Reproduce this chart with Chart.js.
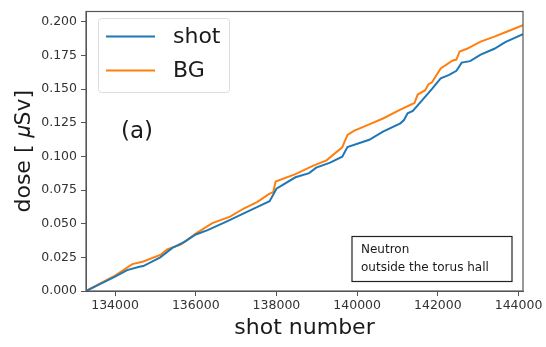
<!DOCTYPE html>
<html>
<head>
<meta charset="utf-8">
<script src="https://cdn.jsdelivr.net/npm/chart.js@4/dist/chart.umd.min.js"></script>
<style>
  html, body { margin: 0; padding: 0; background: #fff; }
  #wrap { width: 546px; height: 347px; }
</style>
</head>
<body>
<div id="wrap"><canvas id="doseChart" width="546" height="347"></canvas></div>
<script>
const shotX = [133280, 134000, 134300, 134600, 134700, 135120, 135420, 135720, 136000, 136280, 136760, 137190, 137530, 137830, 138000, 138470, 138810, 138985, 139330, 139630, 139760, 140300, 140640, 141070, 141160, 141250, 141380, 141640, 141850, 142070, 142280, 142460, 142590, 142800, 143060, 143400, 143670, 144110];
const shotDose = [0, 0.0107, 0.0155, 0.018, 0.0185, 0.025, 0.032, 0.0365, 0.042, 0.045, 0.0516, 0.0577, 0.0625, 0.0667, 0.076, 0.0845, 0.0876, 0.0917, 0.0954, 0.0998, 0.107, 0.1124, 0.1185, 0.1246, 0.127, 0.132, 0.1338, 0.1428, 0.150, 0.158, 0.1606, 0.1636, 0.1697, 0.1708, 0.1757, 0.180, 0.1849, 0.1908];

const bgX = [133280, 134000, 134430, 134700, 135120, 135290, 135630, 136000, 136410, 136850, 137190, 137530, 137830, 137920, 137980, 138470, 138900, 139240, 139630, 139760, 139930, 140300, 140640, 141070, 141420, 141500, 141680, 141770, 141850, 142070, 142370, 142460, 142540, 142720, 143060, 143400, 143750, 144110];
const bgDose = [0, 0.0114, 0.020, 0.0219, 0.0268, 0.0309, 0.0345, 0.0426, 0.0504, 0.0552, 0.0613, 0.0662, 0.0723, 0.0735, 0.0813, 0.0869, 0.093, 0.0971, 0.1068, 0.116, 0.1192, 0.1238, 0.1282, 0.1348, 0.1397, 0.146, 0.149, 0.1537, 0.155, 0.1654, 0.1713, 0.172, 0.178, 0.180, 0.1853, 0.189, 0.1932, 0.1976];

const seriesNames = ['shot', 'BG'];
const seriesColors = ['#1f77b4', '#ff7f0e'];
const xTicks = [134000, 136000, 138000, 140000, 142000, 144000];
const yTicks = [0, 0.025, 0.05, 0.075, 0.1, 0.125, 0.15, 0.175, 0.2];

const fontFamily = '"DejaVu Sans", sans-serif';

const toPoints = (xs, ys) => xs.map((x, i) => ({ x, y: ys[i] }));

// frame, in-plot legend, panel label and note box
const overlay = {
  id: 'overlay',
  afterDraw(chart) {
    const ctx = chart.ctx;
    const a = chart.chartArea;
    ctx.save();
    ctx.strokeStyle = '#555';
    ctx.lineWidth = 1.2;
    ctx.strokeRect(a.left, a.top, a.right - a.left, a.bottom - a.top);

    // legend
    ctx.fillStyle = 'rgba(255,255,255,0.8)';
    ctx.strokeStyle = '#ddd';
    ctx.lineWidth = 1;
    ctx.beginPath();
    ctx.roundRect(98.5, 18.5, 131, 74, 3);
    ctx.fill();
    ctx.stroke();
    ctx.font = '22px ' + fontFamily;
    ctx.textBaseline = 'middle';
    seriesNames.forEach((name, i) => {
      const y = 36.5 + i * 34;
      ctx.strokeStyle = seriesColors[i];
      ctx.lineWidth = 2;
      ctx.beginPath();
      ctx.moveTo(106, y);
      ctx.lineTo(155, y);
      ctx.stroke();
      ctx.fillStyle = '#1a1a1a';
      ctx.fillText(name, 173, y + 1);
    });

    // panel label
    ctx.font = '23px ' + fontFamily;
    ctx.fillStyle = '#1a1a1a';
    ctx.fillText('(a)', 121, 132);

    // note box
    ctx.strokeStyle = '#222';
    ctx.lineWidth = 1.2;
    ctx.strokeRect(352, 236.5, 160, 45);
    ctx.font = '12px ' + fontFamily;
    ctx.fillStyle = '#1a1a1a';
    ctx.fillText('Neutron', 361, 250);
    ctx.fillText('outside the torus hall', 361, 268);
    ctx.restore();
  }
};

new Chart(document.getElementById('doseChart'), {
  type: 'scatter',
  data: {
    datasets: [
      { label: seriesNames[0], data: toPoints(shotX, shotDose), borderColor: seriesColors[0], backgroundColor: seriesColors[0], showLine: true, pointRadius: 0, borderWidth: 2, tension: 0 },
      { label: seriesNames[1], data: toPoints(bgX, bgDose), borderColor: seriesColors[1], backgroundColor: seriesColors[1], showLine: true, pointRadius: 0, borderWidth: 2, tension: 0 }
    ]
  },
  options: {
    responsive: false,
    animation: false,
    layout: { padding: { top: 6, right: 23, left: 0, bottom: 0 } },
    plugins: { legend: { display: false }, tooltip: { enabled: false } },
    scales: {
      x: {
        type: 'linear',
        min: 133280,
        max: 144110,
        afterBuildTicks: (axis) => { axis.ticks = xTicks.map(v => ({ value: v })); },
        afterFit: (axis) => { axis.height = 56; },
        ticks: { color: '#333', font: { family: fontFamily, size: 12.5 }, padding: 2, maxRotation: 0, callback: v => String(v) },
        grid: { display: true, drawOnChartArea: false, drawTicks: true, tickLength: 5, color: '#555' },
        border: { display: true, color: '#555' },
        title: { display: true, text: 'shot number', color: '#1a1a1a', font: { family: fontFamily, size: 22 }, padding: { top: 0, bottom: 6 } }
      },
      y: {
        min: 0,
        max: 0.2077,
        afterBuildTicks: (axis) => { axis.ticks = yTicks.map(v => ({ value: v })); },
        afterFit: (axis) => { axis.width = 86; },
        ticks: { color: '#333', font: { family: fontFamily, size: 12.5 }, padding: 4, callback: v => v.toFixed(3) },
        grid: { display: true, drawOnChartArea: false, drawTicks: true, tickLength: 5, color: '#555' },
        border: { display: true, color: '#555' },
        title: { display: true, text: 'dose [ 𝜇Sv]', color: '#1a1a1a', font: { family: fontFamily, size: 22 }, padding: { top: 11, bottom: 0 } }
      }
    }
  },
  plugins: [overlay]
});
</script>
</body>
</html>
